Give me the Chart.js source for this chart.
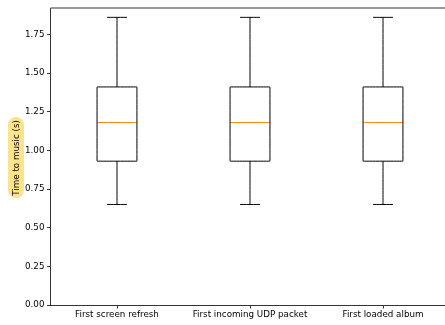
<!DOCTYPE html>
<html>
<head>
<meta charset="utf-8">
<script src="https://cdn.jsdelivr.net/npm/chart.js@4/dist/chart.umd.min.js"></script>
<style>
  html, body { margin: 0; padding: 0; background: #fff; overflow: hidden; }
  #wrap { position: relative; width: 445px; height: 325px; overflow: hidden; }
  #c { position: absolute; left: 0; top: 0; }
  #ylab {
    position: absolute; left: 8px; top: 117px; width: 16px; height: 81px;
    background: #fce38d; border-radius: 8px;
    display: flex; align-items: center; justify-content: center;
  }
  #ylab span {
    writing-mode: vertical-rl; transform: rotate(180deg);
    font-family: "DejaVu Sans"; font-size: 8.75px; color: #000; white-space: nowrap;
  }
</style>
</head>
<body>
<div id="wrap">
  <canvas id="c" width="470" height="325"></canvas>
  <div id="ylab"><span>Time to music (s)</span></div>
</div>
<script>
// ---- data ----
const categories = ["First screen refresh", "First incoming UDP packet", "First loaded album"];
const positions = [1, 2, 3];
const whiskerLow = [0.65, 0.65, 0.65];
const q1 = [0.93, 0.93, 0.93];
const median = [1.18, 1.18, 1.18];
const q3 = [1.41, 1.41, 1.41];
const whiskerHigh = [1.86, 1.86, 1.86];
const yTicks = [0, 0.25, 0.5, 0.75, 1.0, 1.25, 1.5, 1.75];
const yMin = 0, yMax = 1.9205;
const xMin = 0.5, xMax = 3.5;

// ---- style constants ----
const BOX_HALF = 0.15, CAP_HALF = 0.075;

function gap(x) { return { x: x, y: null }; }
const boxPts = [], whiskPts = [], capPts = [], medPts = [];
positions.forEach((p, i) => {
  boxPts.push({x: p - BOX_HALF, y: q1[i]}, {x: p + BOX_HALF, y: q1[i]}, {x: p + BOX_HALF, y: q3[i]},
              {x: p - BOX_HALF, y: q3[i]}, {x: p - BOX_HALF, y: q1[i]}, gap(p));
  whiskPts.push({x: p, y: whiskerLow[i]}, {x: p, y: q1[i]}, gap(p),
                {x: p, y: q3[i]}, {x: p, y: whiskerHigh[i]}, gap(p));
  capPts.push({x: p - CAP_HALF, y: whiskerLow[i]}, {x: p + CAP_HALF, y: whiskerLow[i]}, gap(p),
              {x: p - CAP_HALF, y: whiskerHigh[i]}, {x: p + CAP_HALF, y: whiskerHigh[i]}, gap(p));
  medPts.push({x: p - BOX_HALF, y: median[i]}, {x: p + BOX_HALF, y: median[i]}, gap(p));
});

const lineDs = (data, color) => ({
  type: 'scatter', data: data, showLine: true, spanGaps: false,
  borderColor: color, borderWidth: 1, pointRadius: 0, pointHoverRadius: 0,
  tension: 1e-7, borderJoinStyle: 'miter', borderCapStyle: 'butt', fill: false
});

const framePlugin = {
  id: 'frame',
  afterDraw(chart) {
    const a = chart.chartArea, ctx = chart.ctx;
    ctx.save();
    ctx.strokeStyle = '#000'; ctx.lineWidth = 0.8;
    ctx.beginPath();
    ctx.moveTo(a.left, a.top); ctx.lineTo(a.right, a.top); ctx.lineTo(a.right, a.bottom);
    ctx.stroke();
    ctx.restore();
  }
};

const font = { family: 'DejaVu Sans', size: 8.75 };
new Chart(document.getElementById('c'), {
  type: 'scatter',
  data: {
    datasets: [
      lineDs(whiskPts, '#000'),
      lineDs(capPts, '#000'),
      lineDs(boxPts, '#000'),
      lineDs(medPts, '#ff7f0e')
    ]
  },
  options: {
    responsive: false, animation: false, devicePixelRatio: 1,
    layout: { padding: { top: 8, right: 20.5, left: 0, bottom: 0 } },
    plugins: { legend: { display: false }, tooltip: { enabled: false } },
    scales: {
      x: {
        type: 'linear', min: xMin, max: xMax,
        afterBuildTicks: (s) => { s.ticks = positions.map(v => ({ value: v })); },
        afterFit: (s) => { s.height = 20; },
        grid: { display: true, drawOnChartArea: false, drawTicks: true, tickLength: 3.5, color: '#000', lineWidth: 0.8 },
        border: { display: true, color: '#000', width: 0.8 },
        ticks: { color: '#000', font: font, padding: 1, maxRotation: 0, autoSkip: false,
                 callback: (v, i) => categories[i] }
      },
      y: {
        type: 'linear', min: yMin, max: yMax,
        afterBuildTicks: (s) => { s.ticks = yTicks.map(v => ({ value: v })); },
        afterFit: (s) => { s.width = 50.5; },
        grid: { display: true, drawOnChartArea: false, drawTicks: true, tickLength: 3.5, color: '#000', lineWidth: 0.8 },
        border: { display: true, color: '#000', width: 0.8 },
        ticks: { color: '#000', font: font, padding: 2.5, autoSkip: false,
                 callback: (v) => v.toFixed(2) }
      }
    }
  },
  plugins: [framePlugin]
});
</script>
</body>
</html>
